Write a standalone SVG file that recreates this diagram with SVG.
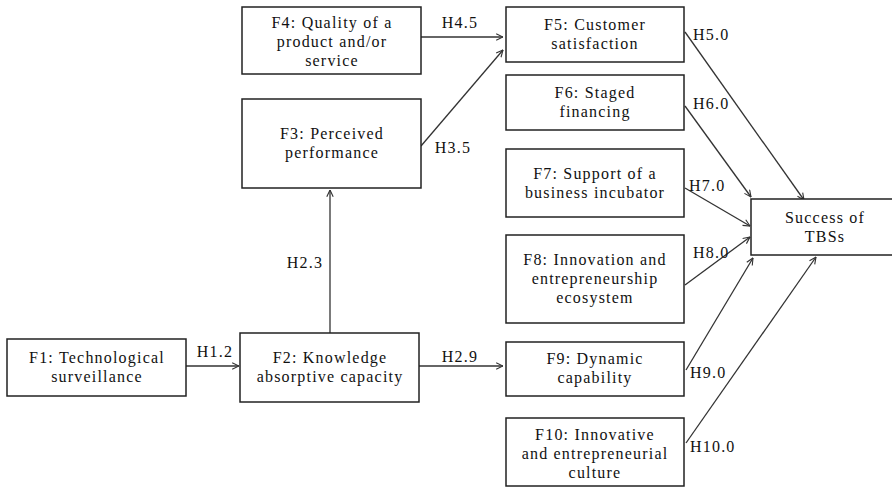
<svg xmlns="http://www.w3.org/2000/svg" width="892" height="487" viewBox="0 0 892 487">
<style>
.box{fill:#fff;stroke:#222;stroke-width:1.5}
text{font-family:'Liberation Serif','Times New Roman','DejaVu Serif',serif;font-size:16px;fill:#111;letter-spacing:1.2px}
.c{text-anchor:middle}
.e{stroke:#333;stroke-width:1.3;fill:none;marker-end:url(#ah)}
</style>
<defs>
<marker id="ah" viewBox="0 0 10 10" refX="9.5" refY="5" markerWidth="8" markerHeight="8" markerUnits="userSpaceOnUse" orient="auto">
<path d="M1,1 L9.5,5 L1,9" fill="none" stroke="#333" stroke-width="1.4"/>
</marker>
</defs>
<rect width="892" height="487" fill="#fff"/>
<g id="connectors">
<line class="e" x1="186" y1="366" x2="239" y2="366"/>
<line class="e" x1="419" y1="366" x2="503" y2="366"/>
<line class="e" x1="330" y1="333" x2="330" y2="190"/>
<line class="e" x1="421" y1="37" x2="503" y2="37"/>
<line class="e" x1="421" y1="146" x2="503" y2="50"/>
<line class="e" x1="685" y1="32" x2="804" y2="200"/>
<line class="e" x1="685" y1="106" x2="751" y2="197"/>
<line class="e" x1="685" y1="188" x2="750" y2="226"/>
<line class="e" x1="685" y1="285" x2="750" y2="237"/>
<line class="e" x1="686" y1="370" x2="753" y2="258"/>
<line class="e" x1="686" y1="443" x2="816" y2="257"/>
<text class="c" x="215" y="357">H1.2</text>
<text class="c" x="460" y="362">H2.9</text>
<text class="c" x="305" y="268">H2.3</text>
<text class="c" x="460" y="28">H4.5</text>
<text class="c" x="453" y="153">H3.5</text>
<text x="693" y="40">H5.0</text>
<text x="693" y="109">H6.0</text>
<text x="689" y="191">H7.0</text>
<text x="693" y="258">H8.0</text>
<text x="690" y="378">H9.0</text>
<text x="690" y="452">H10.0</text>
</g>
<g id="F1">
<rect class="box" x="7" y="339" width="179" height="57"/>
<text class="c" x="97" y="363">F1: Technological</text>
<text class="c" x="97" y="382">surveillance</text>
</g>
<g id="F2">
<rect class="box" x="240" y="333" width="179" height="69"/>
<text class="c" x="330" y="363">F2: Knowledge</text>
<text class="c" x="330" y="382">absorptive capacity</text>
</g>
<g id="F3">
<rect class="box" x="242" y="99" width="179" height="89"/>
<text class="c" x="332" y="139">F3: Perceived</text>
<text class="c" x="332" y="158">performance</text>
</g>
<g id="F4">
<rect class="box" x="242" y="7" width="179" height="67"/>
<text class="c" x="332" y="28">F4: Quality of a</text>
<text class="c" x="332" y="47">product and/or</text>
<text class="c" x="332" y="66">service</text>
</g>
<g id="F5">
<rect class="box" x="506" y="7" width="178" height="55"/>
<text class="c" x="595" y="30">F5: Customer</text>
<text class="c" x="595" y="49">satisfaction</text>
</g>
<g id="F6">
<rect class="box" x="506" y="75" width="178" height="55"/>
<text class="c" x="595" y="98">F6: Staged</text>
<text class="c" x="595" y="117">financing</text>
</g>
<g id="F7">
<rect class="box" x="506" y="149" width="178" height="68"/>
<text class="c" x="595" y="179">F7: Support of a</text>
<text class="c" x="595" y="198">business incubator</text>
</g>
<g id="F8">
<rect class="box" x="506" y="235" width="178" height="88"/>
<text class="c" x="595" y="265">F8: Innovation and</text>
<text class="c" x="595" y="284">entrepreneurship</text>
<text class="c" x="595" y="303">ecosystem</text>
</g>
<g id="F9">
<rect class="box" x="506" y="342" width="178" height="54"/>
<text class="c" x="595" y="364">F9: Dynamic</text>
<text class="c" x="595" y="383">capability</text>
</g>
<g id="F10">
<rect class="box" x="506" y="418" width="178" height="68"/>
<text class="c" x="595" y="440">F10: Innovative</text>
<text class="c" x="595" y="459">and entrepreneurial</text>
<text class="c" x="595" y="478">culture</text>
</g>
<g id="TBS">
<rect class="box" x="751" y="199" width="160" height="56"/>
<text class="c" x="825" y="223">Success of</text>
<text class="c" x="825" y="242">TBSs</text>
</g>
</svg>
